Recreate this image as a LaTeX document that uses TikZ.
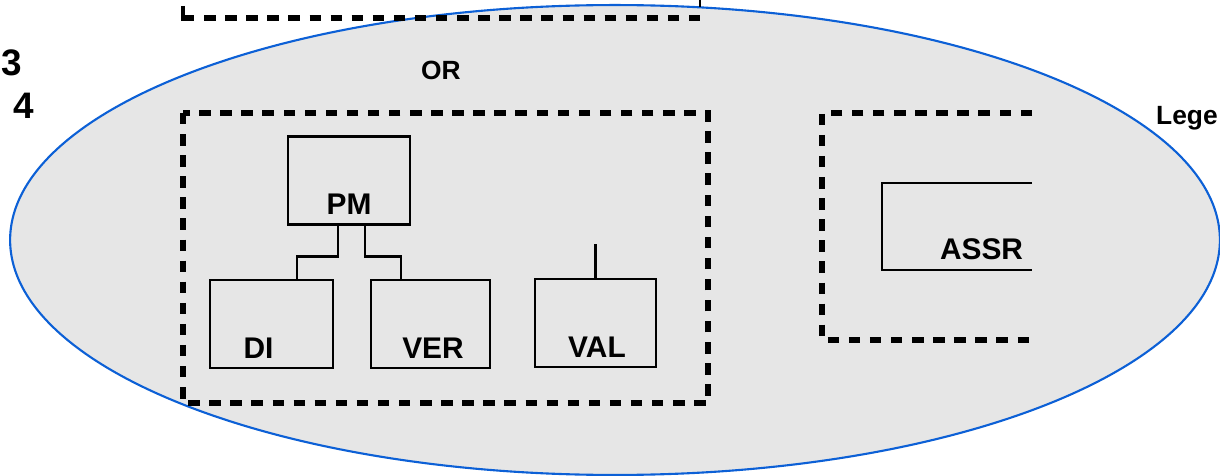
\documentclass[tikz,border=0pt]{standalone}
\usepackage{fontspec}
\setmainfont{Liberation Sans}
\usetikzlibrary{positioning,calc}
\definecolor{ringblue}{RGB}{12,96,214}
\definecolor{shade}{RGB}{230,230,230}

\begin{document}
\begin{tikzpicture}[x=0.02cm,y=-0.02cm,
  unit/.style={draw,line width=1.6pt,minimum height=1.76cm,inner sep=0pt},
  grp/.style={draw,line width=2.9pt,dash pattern=on 6.5pt off 5.5pt},
  tag/.style={font=\fontsize{17}{19}\selectfont\bfseries,inner sep=0pt},
  link/.style={line width=1.6pt}]
  \useasboundingbox (0,0) rectangle (1220,476);
  % shaded region
  \draw[fill=shade,draw=ringblue,line width=1.2pt] (615,240) ellipse [x radius=12.1cm,y radius=4.7cm];
  % cut-off box above
  \draw[grp] (183,18) -- (700,18);
  \draw[line width=1.8pt] (183,6) -- (183,21);
  \draw[line width=1.6pt] (700,0) -- (700,7);
  % side numbers
  \node[font=\fontsize{21}{24}\selectfont\bfseries,anchor=west,inner sep=0pt] (three) at (1,63) {3};
  \node[font=\fontsize{21}{24}\selectfont\bfseries] (four) at (24,106) {4};
  \node[font=\fontsize{15}{17}\selectfont\bfseries] (ortag) at (441,70) {OR};
  \node[font=\fontsize{15}{17}\selectfont\bfseries,anchor=east,inner sep=0pt] (legend) at (1218,118) {Lege};
  % left group
  \draw[grp] (183,113) rectangle (708,403);
  \node[unit,minimum width=2.44cm] (pm) at (349,180.5) {};
  \node[unit,minimum width=2.46cm] (di) at (271.5,324) {};
  \node[unit,minimum width=2.38cm] (ver) at (430.5,324) {};
  \node[unit,minimum width=2.42cm] (val) at (595.5,323) {};
  \node[tag,above=0.22cm of pm.south] (pmtag) {PM};
  \node[tag,above=0.22cm of di.south,xshift=-0.26cm] (ditag) {DI};
  \node[tag,above=0.22cm of ver.south,xshift=0.05cm] (vertag) {VER};
  \node[tag,above=0.22cm of val.south,xshift=0.03cm] (valtag) {VAL};
  \draw[link] ([xshift=-0.22cm]pm.south) -- ++(0,31) -| ([xshift=0.51cm]di.north);
  \draw[link] ([xshift=0.32cm]pm.south) -- ++(0,31) -| ([xshift=-0.59cm]ver.north);
  \draw[link] (val.north) -- ++(0,-34);
  % right group, cut at the edge
  \draw[grp] (1032,113) -| (822,340) -- (1032,340);
  \draw[link] (1032,183) -| (882,270) -- (1032,270);
  \node[tag,anchor=south] (assrtag) at (981.5,260) {ASSR};
\end{tikzpicture}
\end{document}
